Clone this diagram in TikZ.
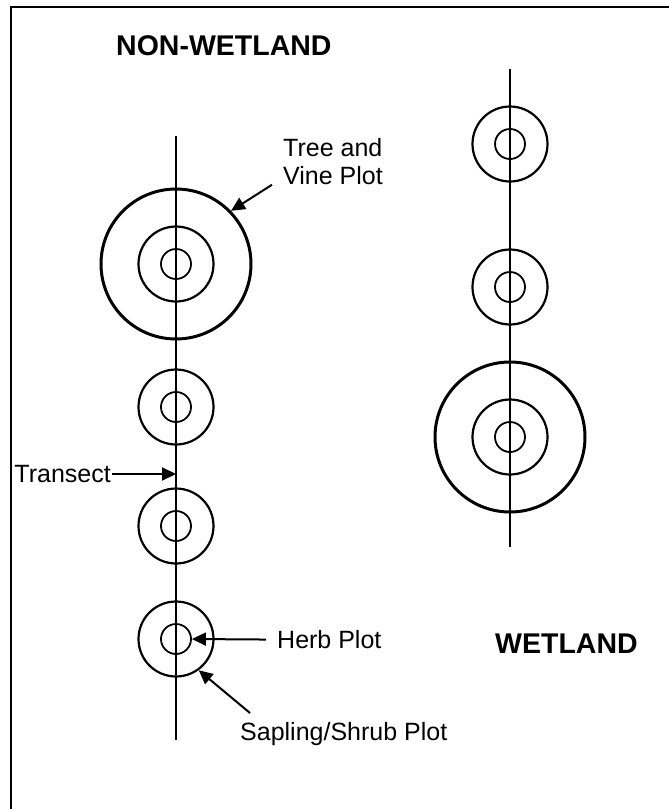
\documentclass[tikz,border=0pt]{standalone}
\usepackage{fontspec}
\setmainfont{Liberation Sans}
\usetikzlibrary{arrows.meta}

\tikzset{
  ring/.style={draw, circle, inner sep=0pt, line width=#1},
  herbring/.style={ring=1.8pt, minimum size=30pt},
  shrubring/.style={ring=2.2pt, minimum size=75pt},
  treering/.style={ring=3pt, minimum size=150pt},
  transect/.style={line width=1.8pt},
  arr/.style={line width=2pt, -{Triangle[length=14pt,width=13pt]}},
  lbl/.style={inner sep=0pt, font=\fontsize{25}{28}\selectfont},
  zone/.style={inner sep=0pt, font=\fontsize{28.5}{32}\selectfont\bfseries}
}

\begin{document}
\begin{tikzpicture}[x=1pt, y=-1pt]
      \useasboundingbox (0,0) rectangle (669,809);

      % Frame
      \draw[line width=1.5pt] (11,809) -- (11,7) -- (669,7);

      % Zone titles
      \node[zone, anchor=base west] (nonwet) at (116,55) {NON-WETLAND};
      \node[zone, anchor=base west] (wet) at (495,653) {WETLAND};

      % Transect lines
      \coordinate (Ltop) at (176,136);
      \coordinate (Lbot) at (176,740);
      \coordinate (Rtop) at (510,69);
      \coordinate (Rbot) at (510,547);
      \draw[transect] (Ltop) -- (Lbot);
      \draw[transect] (Rtop) -- (Rbot);

      % Non-wetland plots
      \node[treering] (L1t) at (176,264) {};
      \node[shrubring] (L1s) at (176,264) {};
      \node[herbring] (L1h) at (176,264) {};
      \node[shrubring] (L2s) at (176,407) {};
      \node[herbring] (L2h) at (176,407) {};
      \node[shrubring] (L3s) at (176,526) {};
      \node[herbring] (L3h) at (176,526) {};
      \node[shrubring] (L4s) at (176,639) {};
      \node[herbring] (L4h) at (176,639) {};

      % Wetland plots
      \node[shrubring] (R1s) at (510,144) {};
      \node[herbring] (R1h) at (510,144) {};
      \node[shrubring] (R2s) at (510,287) {};
      \node[herbring] (R2h) at (510,287) {};
      \node[treering] (R3t) at (510,437) {};
      \node[shrubring] (R3s) at (510,437) {};
      \node[herbring] (R3h) at (510,437) {};

      % Labels
      \node[lbl, anchor=north west, align=left] (tree) at (283,138) {Tree and\\Vine Plot};
      \node[lbl, anchor=east] (trans) at (111,474) {Transect};
      \node[lbl, anchor=west] (herb) at (277,640) {Herb Plot};
      \node[lbl, anchor=north west] (sapling) at (240,722) {Sapling/Shrub Plot};
      \coordinate (Lmid) at (176,474);

      % Pointers
      \draw[arr] ([xshift=-11pt]tree.south west) -- (L1t.44);
      \draw[arr, shorten <=1pt] (trans) -- (Lmid);
      \draw[arr, shorten <=11pt] (herb) -- (L4h.east);
      \draw[arr] ([xshift=10pt,yshift=9pt]sapling.north west) -- (L4s.-54);
\end{tikzpicture}
\end{document}
